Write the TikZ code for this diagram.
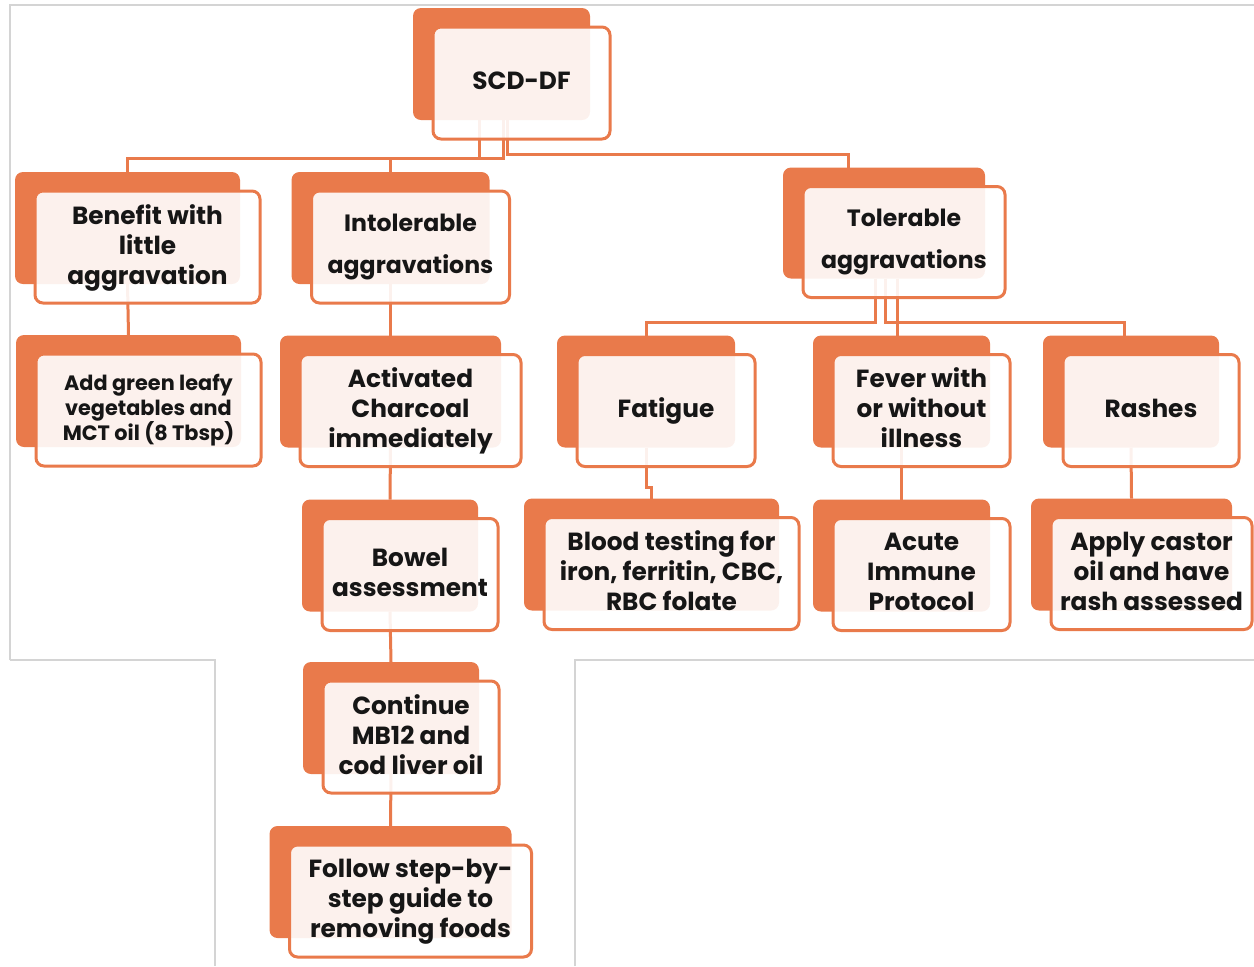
\documentclass[tikz,border=0pt]{standalone}
\usepackage{fontspec}
\setmainfont{Poppins}
\usetikzlibrary{calc}
\definecolor{accent}{HTML}{E97A4B}
\definecolor{frameline}{HTML}{D4D4D4}
\definecolor{ink}{HTML}{161616}
\tikzset{
  conn/.style={draw=accent, line width=1.5pt},
  anchorbox/.style={inner sep=0pt, outer sep=0pt},
  backbox/.style={fill=accent, rounded corners=4pt, inner sep=0pt, outer sep=0pt},
  frontbox/.style={draw=accent, line width=1.5pt, fill=white, fill opacity=0.9,
    rounded corners=4pt, inner sep=0pt, outer sep=0pt},
  label/.style={align=center, text=ink, inner sep=0pt,
    font=\bfseries\fontsize{12.4}{15}\selectfont},
  loose/.style={font=\bfseries\fontsize{11.8}{21}\selectfont, yshift=-1.5pt},
  small/.style={font=\bfseries\fontsize{10.4}{12.5}\selectfont, yshift=-1.5pt},
  lower/.style={yshift=-1.5pt},
}
% #1 name, #2 centre x, #3 centre y, #4 width, #5 height, #6 extra text style, #7 text
\newcommand\flowblock[7]{%
  \node[backbox, minimum width={#4*0.5pt}, minimum height={#5*0.5pt}] at (#2,#3) {};
  \node[frontbox, minimum width={#4*0.5pt}, minimum height={#5*0.5pt}] (#1) at ($(#2,#3)+(20,19)$) {};
  \node[label, #6] (#1T) at ($(#1.center)+(0,-2.5)$) {#7};
}
\begin{document}
\begin{tikzpicture}[x=0.5pt, y=-0.5pt]
  \useasboundingbox (0,0) rectangle (1254,966);
  % light frame lines
  \draw[frameline, line width=0.6pt] (10,660) -- (10,5) -- (1254,5);
  \draw[frameline, line width=0.6pt] (10,660) -- (215,660) -- (215,966);
  \draw[frameline, line width=0.6pt] (575,966) -- (575,660) -- (1254,660);

  % anchor frames of the back boxes, used by the connectors
  \node[anchorbox, minimum width={177*0.5pt}, minimum height={112*0.5pt}] (scdB) at (501.5,64) {};
  \node[anchorbox, minimum width={225*0.5pt}, minimum height={112*0.5pt}] (benB) at (127.5,228) {};
  \node[anchorbox, minimum width={225*0.5pt}, minimum height={112*0.5pt}] (addB) at (128.5,391) {};
  \node[anchorbox, minimum width={198*0.5pt}, minimum height={112*0.5pt}] (intB) at (390.5,228) {};
  \node[anchorbox, minimum width={221*0.5pt}, minimum height={112*0.5pt}] (actB) at (390.5,391.5) {};
  \node[anchorbox, minimum width={176*0.5pt}, minimum height={112*0.5pt}] (bowB) at (390,555.5) {};
  \node[anchorbox, minimum width={176*0.5pt}, minimum height={112*0.5pt}] (conB) at (391,718) {};
  \node[anchorbox, minimum width={242*0.5pt}, minimum height={112*0.5pt}] (folB) at (390.5,882) {};
  \node[anchorbox, minimum width={202*0.5pt}, minimum height={111*0.5pt}] (tolB) at (884,223) {};
  \node[anchorbox, minimum width={178*0.5pt}, minimum height={112*0.5pt}] (fatB) at (646,391.5) {};
  \node[anchorbox, minimum width={177*0.5pt}, minimum height={112*0.5pt}] (fevB) at (901.5,391.5) {};
  \node[anchorbox, minimum width={176*0.5pt}, minimum height={112*0.5pt}] (rasB) at (1131,391.5) {};
  \node[anchorbox, minimum width={255*0.5pt}, minimum height={112*0.5pt}] (bloB) at (651.5,554.5) {};
  \node[anchorbox, minimum width={177*0.5pt}, minimum height={112*0.5pt}] (acuB) at (901.5,555.5) {};
  \node[anchorbox, minimum width={201*0.5pt}, minimum height={112*0.5pt}] (appB) at (1131.5,554.5) {};

  % connectors
  \draw[conn] ($(scdB.south)+(-22.5,0)$) -- ++(0,38) -| (benB.north);
  \draw[conn] ($(scdB.south)+(1.5,0)$) -- ++(0,38) -| (intB.north);
  \draw[conn] ($(scdB.south)+(5.5,0)$) -- ++(0,34) -| ($(tolB.north)+(-36,0)$);
  \draw[conn] (benB.south) -- (addB.north);
  \draw[conn] (intB.south) -- (actB.north);
  \draw[conn] (actB.south) -- (bowB.north);
  \draw[conn] (bowB.south) -- (conB.north);
  \draw[conn] (conB.south) -- (folB.north);
  \draw[conn] ($(tolB.south)+(-9,0)$) -- ++(0,43.5) -| (fatB.north);
  \draw[conn] ($(tolB.south)+(1,0)$) -- ++(0,43.5) -| ($(rasB.north)+(-7,0)$);
  \draw[conn] ($(tolB.south)+(13,0)$) coordinate (tf) -- (tf |- fevB.north);
  \draw[conn] (fatB.south) -- ++(0,40) -| (bloB.north);
  \draw[conn] (fevB.south) -- (acuB.north);
  \draw[conn] (rasB.south) -- (appB.north);

  % blocks
  \flowblock{scd}{501.5}{64}{177}{112}{}{SCD-DF}
  \flowblock{ben}{127.5}{228}{225}{112}{lower}{Benefit with\\little\\aggravation}
  \flowblock{add}{128.5}{391}{225}{112}{small}{Add green leafy\\vegetables and\\MCT oil (8 Tbsp)}
  \flowblock{int}{390.5}{228}{198}{112}{loose}{Intolerable\\aggravations}
  \flowblock{act}{390.5}{391.5}{221}{112}{lower}{Activated\\Charcoal\\immediately}
  \flowblock{bow}{390}{555.5}{176}{112}{}{Bowel\\assessment}
  \flowblock{con}{391}{718}{176}{112}{}{Continue\\MB12 and\\cod liver oil}
  \flowblock{fol}{390.5}{882}{242}{112}{lower}{Follow step-by-\\step guide to\\removing foods}
  \flowblock{tol}{884}{223}{202}{111}{loose}{Tolerable\\aggravations}
  \flowblock{fat}{646}{391.5}{178}{112}{lower}{Fatigue}
  \flowblock{fev}{901.5}{391.5}{177}{112}{}{Fever with\\or without\\illness}
  \flowblock{ras}{1131}{391.5}{176}{112}{}{Rashes}
  \flowblock{blo}{651.5}{554.5}{255}{112}{}{Blood testing for\\iron, ferritin, CBC,\\RBC folate}
  \flowblock{acu}{901.5}{555.5}{177}{112}{}{Acute\\Immune\\Protocol}
  \flowblock{app}{1131.5}{554.5}{201}{112}{}{Apply castor\\oil and have\\rash assessed}
\end{tikzpicture}
\end{document}
